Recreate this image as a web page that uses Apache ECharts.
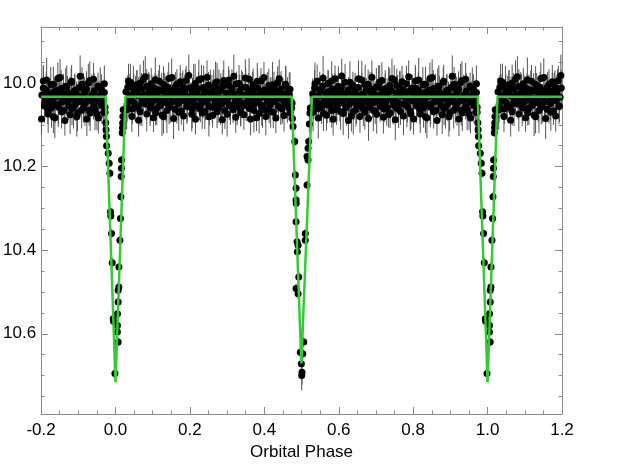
<!DOCTYPE html>
<html><head><meta charset="utf-8">
<script src="https://cdn.jsdelivr.net/npm/echarts@6/dist/echarts.min.js"></script>
<style>html,body{margin:0;padding:0;background:#fff}#c{width:639px;height:471px}</style>
</head><body><div id="c"></div>
<script>
// ---- axis ticks ----
const xTicks = [-0.2, 0.0, 0.2, 0.4, 0.6, 0.8, 1.0, 1.2];
const yTicks = [10.0, 10.2, 10.4, 10.6];
const yMinorTicks = [9.9, 9.95, 10.05, 10.1, 10.15, 10.25, 10.3, 10.35, 10.45, 10.5, 10.55, 10.65, 10.7, 10.75];
const xRange = [-0.2, 1.2];
const yRange = [9.866, 10.792];

// ---- model light curve (phase, magnitude) ----
const modelPhase = [-0.2, -0.0265, 0.0, 0.0267, 0.4735, 0.4995, 0.5281, 0.9735, 1.0, 1.0267, 1.2];
const modelMag   = [10.033, 10.033, 10.716, 10.033, 10.033, 10.671, 10.033, 10.033, 10.716, 10.033, 10.033];

// ---- observations [phase, mag, err], phases in one cycle ----
const outA = [[0.028,10.021,0.034],[0.031,10.052,0.041],[0.033,10.010,0.029],[0.036,10.043,0.038],[0.040,9.998,0.044],[0.042,10.035,0.031],[0.045,10.062,0.036],[0.049,10.018,0.040],[0.051,10.047,0.027],[0.054,10.026,0.043],[0.058,10.004,0.035],[0.061,10.057,0.030],[0.063,10.031,0.046],[0.066,10.069,0.033],[0.070,10.015,0.039],[0.072,10.040,0.028],[0.075,9.991,0.045],[0.079,10.028,0.032],[0.082,10.050,0.037],[0.084,10.008,0.041],[0.087,10.037,0.030],[0.091,10.022,0.044],[0.094,10.060,0.034],[0.096,10.002,0.038],[0.099,10.045,0.029],[0.103,10.033,0.042],[0.106,10.013,0.036],[0.108,10.071,0.031],[0.111,10.027,0.047],[0.115,10.041,0.033],[0.118,9.996,0.039],[0.120,10.054,0.028],[0.124,10.019,0.043],[0.127,10.036,0.035],[0.129,10.081,0.040],[0.132,10.006,0.030],[0.136,10.048,0.045],[0.139,10.024,0.032],[0.141,10.011,0.038],[0.144,10.058,0.041],[0.148,10.032,0.029],[0.151,9.987,0.046],[0.153,10.044,0.034],[0.157,10.016,0.037],[0.160,10.063,0.031],[0.162,10.029,0.042],[0.165,10.003,0.036],[0.169,10.049,0.040],[0.172,10.038,0.027],[0.174,10.020,0.044],[0.177,10.067,0.033],[0.181,10.009,0.039],[0.184,10.042,0.030],[0.186,10.025,0.045],[0.190,9.994,0.035],[0.193,10.055,0.038],[0.195,10.034,0.032],[0.198,10.012,0.043],[0.202,10.046,0.029],[0.205,10.075,0.041],[0.207,10.023,0.036],[0.210,10.039,0.031],[0.214,10.001,0.047],[0.217,10.053,0.034],[0.219,10.030,0.037],[0.223,10.014,0.040],[0.226,10.061,0.028],[0.228,10.037,0.044],[0.231,9.990,0.033],[0.235,10.045,0.039],[0.238,10.026,0.030],[0.240,10.068,0.042],[0.243,10.017,0.035],[0.247,10.040,0.038],[0.250,10.005,0.031],[0.252,10.056,0.046],[0.256,10.032,0.034],[0.259,10.021,0.040],[0.261,10.078,0.029],[0.264,10.011,0.043],[0.268,10.047,0.036],[0.271,10.028,0.032],[0.273,9.997,0.045],[0.276,10.059,0.037],[0.280,10.035,0.030],[0.283,10.018,0.041],[0.285,10.050,0.034],[0.289,10.007,0.039],[0.292,10.043,0.028],[0.294,10.066,0.044],[0.297,10.024,0.035],[0.301,10.038,0.040],[0.304,9.993,0.033],[0.306,10.052,0.037],[0.309,10.031,0.031],[0.313,10.013,0.046],[0.316,10.064,0.032],[0.318,10.027,0.038],[0.322,10.044,0.042],[0.325,10.002,0.029],[0.327,10.057,0.044],[0.330,10.036,0.035],[0.334,10.019,0.039],[0.337,10.072,0.030],[0.339,10.010,0.041],[0.342,10.048,0.036],[0.346,10.029,0.033],[0.349,9.988,0.045],[0.351,10.054,0.037],[0.355,10.033,0.031],[0.358,10.016,0.040],[0.360,10.061,0.034],[0.363,10.025,0.043],[0.367,10.041,0.028],[0.370,10.004,0.038],[0.372,10.050,0.042],[0.375,10.030,0.035],[0.379,10.083,0.032],[0.382,10.012,0.046],[0.384,10.046,0.036],[0.388,10.022,0.039],[0.391,9.995,0.031],[0.393,10.058,0.044],[0.396,10.034,0.034],[0.400,10.017,0.037],[0.403,10.065,0.030],[0.405,10.028,0.041],[0.408,10.042,0.035],[0.412,10.006,0.040],[0.415,10.053,0.029],[0.417,10.031,0.045],[0.421,10.020,0.033],[0.424,10.070,0.038],[0.426,10.009,0.036],[0.429,10.045,0.031],[0.433,10.026,0.043],[0.436,9.999,0.039],[0.438,10.056,0.034],[0.441,10.037,0.030],[0.445,10.014,0.042],[0.448,10.062,0.036],[0.450,10.029,0.040],[0.454,10.047,0.032],[0.457,10.003,0.044],[0.459,10.040,0.035],[0.462,10.024,0.038],[0.466,10.058,0.031],[0.469,10.015,0.041],[0.471,10.044,0.036]];

const outA2 = [[0.030,10.064,0.048],[0.035,9.995,0.041],[0.039,10.030,0.052],[0.044,10.080,0.037],[0.048,10.005,0.046],[0.053,10.058,0.033],[0.057,10.020,0.050],[0.062,10.089,0.039],[0.066,10.000,0.044],[0.071,10.048,0.055],[0.075,10.032,0.036],[0.080,9.985,0.049],[0.084,10.074,0.042],[0.089,10.012,0.038],[0.093,10.052,0.051],[0.098,10.026,0.045],[0.102,10.083,0.034],[0.107,9.992,0.053],[0.111,10.060,0.040],[0.116,10.017,0.047],[0.120,10.041,0.036],[0.125,10.077,0.050],[0.129,10.003,0.043],[0.134,10.035,0.039],[0.138,10.066,0.054],[0.143,9.989,0.038],[0.147,10.050,0.046],[0.152,10.024,0.041],[0.156,10.085,0.049],[0.161,10.009,0.035],[0.165,10.045,0.052],[0.170,10.070,0.044],[0.174,9.997,0.040],[0.179,10.031,0.055],[0.183,10.079,0.037],[0.188,10.015,0.048],[0.192,10.056,0.042],[0.197,9.982,0.050],[0.201,10.038,0.039],[0.206,10.062,0.046],[0.210,10.008,0.053],[0.215,10.087,0.036],[0.219,10.027,0.044],[0.224,9.993,0.049],[0.228,10.053,0.041],[0.233,10.072,0.038],[0.237,10.011,0.052],[0.242,10.044,0.045],[0.246,9.986,0.040],[0.251,10.081,0.047],[0.255,10.022,0.054],[0.260,10.058,0.037],[0.264,10.036,0.043],[0.269,9.999,0.050],[0.273,10.069,0.039],[0.278,10.014,0.046],[0.282,10.049,0.051],[0.287,10.088,0.035],[0.291,9.994,0.048],[0.296,10.033,0.042],[0.300,10.075,0.053],[0.305,10.006,0.038],[0.309,10.055,0.045],[0.314,10.023,0.040],[0.318,9.984,0.052],[0.323,10.082,0.037],[0.327,10.043,0.049],[0.332,10.001,0.044],[0.336,10.063,0.041],[0.341,10.029,0.055],[0.345,10.076,0.036],[0.350,10.010,0.047],[0.354,10.047,0.043],[0.359,9.991,0.050],[0.363,10.086,0.039],[0.368,10.019,0.046],[0.372,10.066,0.052],[0.377,10.037,0.038],[0.381,9.996,0.044],[0.386,10.073,0.048],[0.390,10.025,0.040],[0.395,10.054,0.053],[0.399,9.987,0.037],[0.404,10.080,0.045],[0.408,10.016,0.042],[0.413,10.046,0.050],[0.417,10.068,0.039],[0.422,10.004,0.054],[0.426,10.034,0.043],[0.431,10.084,0.036],[0.435,10.021,0.049],[0.440,9.990,0.046],[0.444,10.059,0.041],[0.449,10.039,0.051],[0.453,10.078,0.038],[0.458,10.007,0.047],[0.462,10.051,0.044],[0.467,10.027,0.052],[0.470,10.071,0.040]];

const outB = [[0.530,10.026,0.037],[0.533,10.055,0.032],[0.535,10.012,0.043],[0.538,10.040,0.035],[0.542,9.996,0.040],[0.545,10.061,0.030],[0.547,10.031,0.045],[0.550,10.019,0.034],[0.554,10.049,0.038],[0.557,10.007,0.029],[0.559,10.073,0.042],[0.562,10.035,0.036],[0.566,10.023,0.031],[0.569,10.052,0.044],[0.571,10.001,0.033],[0.574,10.042,0.039],[0.578,10.028,0.030],[0.581,10.066,0.041],[0.583,10.014,0.035],[0.586,10.046,0.037],[0.590,9.990,0.032],[0.593,10.038,0.046],[0.595,10.057,0.034],[0.598,10.020,0.040],[0.602,10.033,0.029],[0.605,10.069,0.043],[0.607,10.010,0.036],[0.610,10.044,0.031],[0.614,10.025,0.038],[0.617,9.998,0.044],[0.619,10.059,0.033],[0.622,10.036,0.039],[0.626,10.016,0.030],[0.629,10.050,0.042],[0.631,10.029,0.035],[0.634,10.079,0.037],[0.638,10.005,0.032],[0.641,10.043,0.045],[0.643,10.022,0.034],[0.646,10.064,0.040],[0.650,10.032,0.028],[0.653,10.011,0.043],[0.655,10.054,0.036],[0.658,10.039,0.031],[0.662,9.993,0.046],[0.665,10.047,0.033],[0.667,10.027,0.038],[0.670,10.070,0.041],[0.674,10.018,0.030],[0.677,10.041,0.044],[0.679,10.003,0.035],[0.682,10.058,0.037],[0.686,10.034,0.032],[0.689,10.015,0.042],[0.691,10.048,0.036],[0.694,10.024,0.039],[0.698,10.067,0.031],[0.701,10.009,0.045],[0.703,10.044,0.034],[0.706,10.030,0.038],[0.710,9.997,0.040],[0.713,10.056,0.029],[0.715,10.037,0.043],[0.718,10.021,0.036],[0.722,10.062,0.032],[0.725,10.013,0.044],[0.727,10.045,0.035],[0.730,10.028,0.039],[0.734,10.076,0.030],[0.737,10.006,0.041],[0.739,10.039,0.037],[0.742,10.019,0.033],[0.746,10.053,0.046],[0.749,9.992,0.034],[0.751,10.035,0.040],[0.754,10.060,0.031],[0.758,10.023,0.042],[0.761,10.047,0.036],[0.763,10.010,0.038],[0.766,10.068,0.032],[0.770,10.031,0.044],[0.773,10.016,0.035],[0.775,10.051,0.039],[0.778,10.026,0.030],[0.782,10.002,0.043],[0.785,10.057,0.037],[0.787,10.038,0.033],[0.790,10.020,0.041],[0.794,10.074,0.036],[0.797,10.012,0.031],[0.799,10.043,0.045],[0.802,10.029,0.034],[0.806,9.995,0.038],[0.809,10.055,0.040],[0.811,10.034,0.029],[0.814,10.017,0.044],[0.818,10.063,0.035],[0.821,10.025,0.037],[0.823,10.046,0.032],[0.826,10.004,0.042],[0.830,10.040,0.036],[0.833,10.081,0.039],[0.835,10.021,0.031],[0.838,10.050,0.046],[0.842,10.032,0.033],[0.845,9.989,0.038],[0.847,10.058,0.041],[0.850,10.027,0.030],[0.854,10.013,0.044],[0.857,10.045,0.035],[0.859,10.036,0.037],[0.862,10.066,0.032],[0.866,10.008,0.043],[0.869,10.041,0.036],[0.871,10.022,0.039],[0.874,10.054,0.031],[0.878,10.030,0.045],[0.881,9.998,0.034],[0.883,10.061,0.040],[0.886,10.037,0.033],[0.890,10.018,0.038],[0.893,10.049,0.042],[0.895,10.026,0.029],[0.898,10.071,0.044],[0.902,10.011,0.035],[0.905,10.044,0.037],[0.907,10.033,0.032],[0.910,10.003,0.041],[0.914,10.059,0.036],[0.917,10.024,0.039],[0.919,10.047,0.030],[0.922,10.015,0.043],[0.926,10.038,0.035],[0.929,10.065,0.037],[0.931,9.994,0.046],[0.934,10.042,0.033],[0.938,10.028,0.038],[0.941,10.056,0.031],[0.943,10.019,0.042],[0.946,10.035,0.036],[0.950,10.074,0.039],[0.953,10.007,0.032],[0.955,10.046,0.044],[0.958,10.030,0.035],[0.962,10.016,0.037],[0.965,10.052,0.031],[0.967,10.039,0.040],[0.970,10.023,0.034],[0.972,10.058,0.036]];

const outB2 = [[0.531,10.070,0.046],[0.536,10.002,0.051],[0.540,10.046,0.038],[0.545,10.084,0.049],[0.549,10.016,0.043],[0.554,10.058,0.040],[0.558,9.988,0.053],[0.563,10.039,0.045],[0.567,10.077,0.037],[0.572,10.021,0.050],[0.576,10.053,0.042],[0.581,9.995,0.047],[0.585,10.087,0.039],[0.590,10.030,0.054],[0.594,10.064,0.036],[0.599,10.008,0.048],[0.603,10.048,0.044],[0.608,9.983,0.041],[0.612,10.073,0.052],[0.617,10.025,0.038],[0.621,10.056,0.046],[0.626,10.090,0.043],[0.630,9.998,0.050],[0.635,10.037,0.040],[0.639,10.068,0.055],[0.644,10.013,0.037],[0.648,10.050,0.047],[0.653,9.990,0.044],[0.657,10.080,0.039],[0.662,10.027,0.051],[0.666,10.061,0.042],[0.671,10.004,0.048],[0.675,10.044,0.036],[0.680,10.085,0.053],[0.684,10.019,0.045],[0.689,9.986,0.040],[0.693,10.066,0.049],[0.698,10.034,0.038],[0.702,10.075,0.046],[0.707,10.010,0.052],[0.711,10.052,0.041],[0.716,9.994,0.044],[0.720,10.082,0.039],[0.725,10.028,0.050],[0.729,10.059,0.043],[0.734,10.015,0.054],[0.738,10.071,0.037],[0.743,9.989,0.047],[0.747,10.041,0.042],[0.752,10.088,0.049],[0.756,10.006,0.040],[0.761,10.063,0.045],[0.765,10.022,0.051],[0.770,9.997,0.038],[0.774,10.079,0.046],[0.779,10.036,0.043],[0.783,10.054,0.052],[0.788,9.985,0.039],[0.792,10.067,0.048],[0.797,10.024,0.044],[0.801,10.086,0.037],[0.806,10.012,0.050],[0.810,10.047,0.041],[0.815,9.993,0.053],[0.819,10.074,0.045],[0.824,10.031,0.040],[0.828,10.060,0.047],[0.833,10.003,0.042],[0.837,10.083,0.049],[0.842,10.018,0.038],[0.846,10.051,0.055],[0.851,9.987,0.044],[0.855,10.069,0.040],[0.860,10.026,0.048],[0.864,10.090,0.036],[0.869,10.009,0.051],[0.873,10.045,0.043],[0.878,10.076,0.046],[0.882,9.996,0.039],[0.887,10.057,0.052],[0.891,10.020,0.042],[0.896,10.081,0.047],[0.900,10.035,0.040],[0.905,9.984,0.050],[0.909,10.065,0.044],[0.914,10.014,0.038],[0.918,10.049,0.053],[0.923,10.086,0.041],[0.927,10.000,0.046],[0.932,10.072,0.043],[0.936,10.029,0.049],[0.941,9.991,0.039],[0.945,10.062,0.051],[0.950,10.040,0.045],[0.954,10.084,0.037],[0.959,10.011,0.048],[0.963,10.054,0.042],[0.968,10.070,0.050],[0.970,10.002,0.044]];

const primaryIngress = [[-0.0280,10.070,0.030],[-0.0262,10.095,0.020],[-0.0255,10.112,0.015],[-0.0245,10.128,0.010],[-0.0240,10.150,0.010],[-0.0195,10.168,0.010],[-0.0170,10.192,0.010],[-0.0150,10.216,0.010],[-0.0134,10.308,0.010],[-0.0127,10.318,0.010],[-0.0107,10.360,0.010],[-0.0088,10.430,0.012],[-0.0061,10.564,0.012],[-0.0053,10.570,0.012],[-0.0016,10.695,0.020]];
const primaryEgress = [[0.0206,10.064,0.010],[0.0198,10.080,0.010],[0.0192,10.096,0.010],[0.0187,10.107,0.010],[0.0179,10.119,0.010],[0.0162,10.184,0.010],[0.0158,10.204,0.010],[0.0153,10.224,0.010],[0.0144,10.272,0.010],[0.0134,10.324,0.010],[0.0118,10.376,0.010],[0.0091,10.440,0.010],[0.0090,10.488,0.010],[0.0072,10.496,0.010],[0.0071,10.524,0.010],[0.0053,10.552,0.010],[0.0052,10.580,0.010],[0.0051,10.596,0.010],[0.0070,10.620,0.010]];
const secondaryIngress = [[0.4735,10.060,0.030],[0.4746,10.048,0.020],[0.4755,10.085,0.020],[0.4773,10.104,0.010],[0.4818,10.140,0.010],[0.4834,10.220,0.010],[0.4853,10.252,0.010],[0.4853,10.280,0.010],[0.4856,10.288,0.010],[0.4853,10.332,0.010],[0.4880,10.380,0.010],[0.4907,10.388,0.010],[0.4888,10.404,0.010],[0.4925,10.464,0.010],[0.4853,10.492,0.012],[0.4907,10.504,0.012],[0.4968,10.644,0.015],[0.4995,10.672,0.025],[0.5013,10.692,0.030]];
const secondaryEgress = [[0.5235,10.060,0.030],[0.5225,10.072,0.020],[0.5210,10.098,0.020],[0.5192,10.140,0.010],[0.5174,10.156,0.010],[0.5147,10.176,0.010],[0.5174,10.184,0.010],[0.5147,10.244,0.010],[0.5101,10.360,0.010],[0.5101,10.376,0.010],[0.5059,10.620,0.012],[0.5032,10.648,0.015],[0.5005,10.700,0.035]];

// fold a one-cycle list into the displayed phase range (-0.2 .. 1.2)
function unfold(list) {
  const res = [];
  for (const [p, m, e] of list) {
    for (const k of [-1, 0, 1]) {
      const q = p + k;
      if (q >= xRange[0] && q <= xRange[1]) res.push([q, m, e]);
    }
  }
  return res;
}
const obs = unfold([].concat(outA, outA2, outB, outB2, primaryIngress, primaryEgress, secondaryIngress, secondaryEgress));
const model = modelPhase.map((p, i) => [p, modelMag[i]]);

const AX = '#8a8a8a';
const FONT = 'Liberation Sans, Helvetica, Arial, sans-serif';
const fmt = v => Number(v).toFixed(1);

const baseY = {
  type: 'value', inverse: true, min: yRange[0], max: yRange[1],
  splitLine: { show: false }, axisLine: { show: true, onZero: false, lineStyle: { color: AX, width: 1 } }
};

const chart = echarts.init(document.getElementById('c'), null, { renderer: 'canvas' });
chart.setOption({
  animation: false,
  backgroundColor: '#fff',
  grid: { left: 38, top: 27, width: 524, height: 387, containLabel: false },
  xAxis: [
    { type: 'value', position: 'bottom', min: xRange[0], max: xRange[1], interval: 0.2,
      name: 'Orbital Phase', nameLocation: 'middle', nameGap: 23,
      nameTextStyle: { color: '#000', fontSize: 17, fontFamily: FONT },
      axisLine: { onZero: false, lineStyle: { color: AX, width: 1 } },
      axisTick: { inside: true, length: 7, lineStyle: { color: AX } },
      minorTick: { show: true, splitNumber: 4, length: 3.5, lineStyle: { color: AX } },
      axisLabel: { color: '#000', fontSize: 17, fontFamily: FONT, margin: 8, formatter: fmt, showMinLabel: true, showMaxLabel: true },
      splitLine: { show: false } },
    { type: 'value', position: 'top', min: xRange[0], max: xRange[1], interval: 0.2,
      axisLine: { onZero: false, lineStyle: { color: AX, width: 1 } },
      axisTick: { inside: true, length: 7, lineStyle: { color: AX } },
      minorTick: { show: true, splitNumber: 4, length: 3.5, lineStyle: { color: AX } },
      axisLabel: { show: false }, splitLine: { show: false } }
  ],
  yAxis: [
    Object.assign({}, baseY, { position: 'left',
      axisTick: { inside: true, length: 7, customValues: yTicks, lineStyle: { color: AX } },
      axisLabel: { color: '#000', fontSize: 17, fontFamily: FONT, margin: 5, customValues: yTicks, formatter: fmt } }),
    Object.assign({}, baseY, { position: 'left', axisLine: { show: false, onZero: false },
      axisTick: { inside: true, length: 3.5, customValues: yMinorTicks, lineStyle: { color: AX } },
      axisLabel: { show: false } }),
    Object.assign({}, baseY, { position: 'right',
      axisTick: { inside: true, length: 7, customValues: yTicks, lineStyle: { color: AX } },
      axisLabel: { show: false } }),
    Object.assign({}, baseY, { position: 'right', axisLine: { show: false, onZero: false },
      axisTick: { inside: true, length: 3.5, customValues: yMinorTicks, lineStyle: { color: AX } },
      axisLabel: { show: false } })
  ],
  series: [
    { type: 'custom', xAxisIndex: 0, yAxisIndex: 0, data: obs, z: 2,
      encode: { x: 0, y: 1 },
      renderItem: (params, api) => {
        const x = api.value(0), m = api.value(1), e = api.value(2);
        const a = api.coord([x, m - e]), b = api.coord([x, m + e]);
        return { type: 'line', shape: { x1: a[0], y1: a[1], x2: b[0], y2: b[1] },
                 style: { stroke: '#555', lineWidth: 1 } };
      } },
    { type: 'scatter', xAxisIndex: 0, yAxisIndex: 0, data: obs, z: 3,
      symbol: 'circle', symbolSize: 7, itemStyle: { color: '#000', opacity: 1 } },
    { type: 'line', xAxisIndex: 0, yAxisIndex: 0, data: model, z: 4,
      showSymbol: false, symbol: 'none', lineStyle: { color: '#35c935', width: 2.5 } }
  ]
});
</script>
</body></html>
